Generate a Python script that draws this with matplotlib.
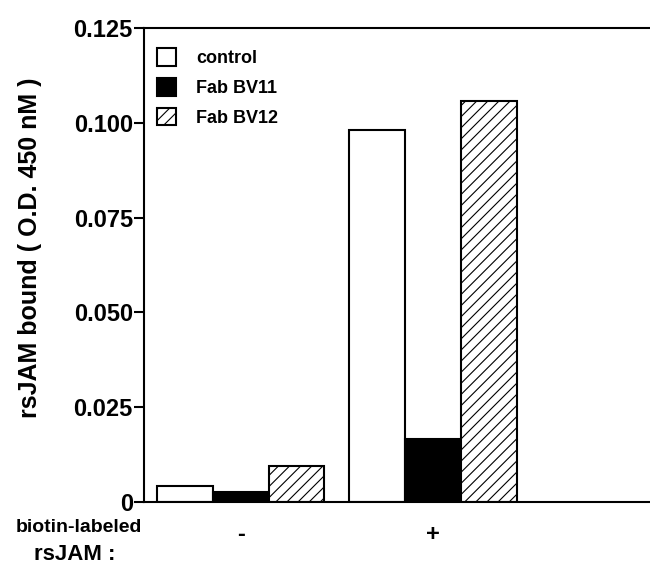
import numpy as np
import matplotlib.pyplot as plt

plt.rcParams['font.family'] = ['Liberation Sans', 'DejaVu Sans']
plt.rcParams['font.weight'] = 'bold'
plt.rcParams['hatch.linewidth'] = 0.8

# data
groups = ['-', '+']
series = ['control', 'Fab BV11', 'Fab BV12']
control = [0.0042, 0.0980]
bv11 = [0.0026, 0.0166]
bv12 = [0.0095, 0.1057]
yticks = [0, 0.025, 0.050, 0.075, 0.100, 0.125]
ytick_labels = ['0', '0.025', '0.050', '0.075', '0.100', '0.125']

fig = plt.figure(figsize=(6.5, 5.7), dpi=100)
ax = fig.add_axes([0.2215, 0.1193, 0.7785, 0.8316])

x = np.arange(len(groups))
w = 0.29
styles = [dict(color='white', hatch=None),
          dict(color='black', hatch=None),
          dict(color='white', hatch='///')]
for i, (vals, name, st) in enumerate(zip([control, bv11, bv12], series, styles)):
    ax.bar(x + (i - 1) * w, vals, w, facecolor=st['color'], edgecolor='black',
           linewidth=1.5, hatch=st['hatch'], label=name)

ax.set_xlim(-0.505, 2.13)
ax.set_ylim(0, 0.125)
ax.set_yticks(yticks)
ax.set_yticklabels(ytick_labels, fontsize=17, fontweight='bold')
ax.set_xticks(x)
ax.set_xticklabels(groups, fontsize=17, fontweight='bold')
ax.tick_params(axis='y', direction='out', length=7, width=1.5, pad=1)
ax.tick_params(axis='x', length=0, pad=15)
for s in ['left', 'top', 'bottom']:
    ax.spines[s].set_linewidth(1.5)
ax.spines['right'].set_visible(False)

ax.set_ylabel('rsJAM bound ( O.D. 450 nM )', fontsize=18, fontweight='bold')
ax.yaxis.set_label_coords(-0.202, 0.536)

leg = ax.legend(loc='upper left', frameon=False, fontsize=13, handlelength=1.1,
                handleheight=1.15, handletextpad=1.1, labelspacing=0.6,
                borderaxespad=0.3, bbox_to_anchor=(0.0, 0.985))

fig.text(0.122, 0.075, 'biotin-labeled', fontsize=14, fontweight='bold', ha='center', va='center')
fig.text(0.115, 0.028, 'rsJAM :', fontsize=16, fontweight='bold', ha='center', va='center')

fig.savefig('out.png', dpi=100)
